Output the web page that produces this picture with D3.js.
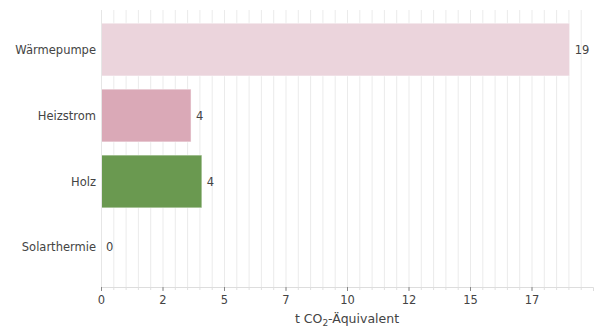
<!DOCTYPE html>
<html><head><meta charset="utf-8">
<script src="https://cdn.jsdelivr.net/npm/d3@7"></script>
<style>body{margin:0;background:#fff}svg{display:block;font-family:"DejaVu Sans",sans-serif}</style>
</head><body><svg id="c" width="595" height="327"></svg>
<script>
const categories = ["Wärmepumpe", "Heizstrom", "Holz", "Solarthermie"];
const values = [19.05, 3.66, 4.1, 0];
const valueLabels = ["19", "4", "4", "0"];
const colors = ["#ebd4dc", "#daa9b7", "#6a9950", "#cccccc"];
const tickValues = [0, 2.5, 5, 7.5, 10, 12.5, 15, 17.5];
const tickLabels = ["0", "2", "5", "7", "10", "12", "15", "17"];
const xMax = 20;
const axisTitleParts = ["t CO", "2", "-Äquivalent"];

const svg = d3.select("#c");
const x = d3.scaleLinear().domain([0, xMax]).range([101, 593]);
const y = d3.scaleBand().domain(categories).range([10, 287]).paddingInner(0.2).paddingOuter(0.2);

// grid
svg.append("g").selectAll("line").data(d3.range(0, xMax, 0.5)).join("line")
  .attr("x1", d => x(d) + 0.5).attr("x2", d => x(d) + 0.5)
  .attr("y1", 10).attr("y2", 287)
  .attr("stroke", "#ebebeb").attr("stroke-width", 1);

// minor ticks
svg.append("g").selectAll("line").data(d3.range(0, xMax, 0.5)).join("line")
  .attr("x1", d => x(d) + 0.5).attr("x2", d => x(d) + 0.5)
  .attr("y1", 287).attr("y2", 290)
  .attr("stroke", "#e0e0e0").attr("stroke-width", 1);

// bars
svg.append("g").selectAll("rect").data(categories).join("rect")
  .attr("x", x(0)).attr("y", d => y(d))
  .attr("width", (d, i) => x(values[i]) - x(0))
  .attr("height", y.bandwidth())
  .attr("fill", (d, i) => colors[i])
  .attr("stroke", "#ffffff").attr("stroke-opacity", 0.5).attr("stroke-width", 1);

// value labels
svg.append("g").selectAll("text").data(categories).join("text")
  .attr("x", (d, i) => x(values[i]) + 5)
  .attr("y", d => y(d) + y.bandwidth() / 2)
  .attr("dy", "0.35em")
  .attr("font-size", 11.5).attr("fill", "#444")
  .text((d, i) => valueLabels[i]);

// y labels
svg.append("g").selectAll("text").data(categories).join("text")
  .attr("x", 96)
  .attr("y", d => y(d) + y.bandwidth() / 2)
  .attr("dy", "0.35em").attr("text-anchor", "end")
  .attr("font-size", 11.5).attr("fill", "#444")
  .text(d => d);

// y axis line
svg.append("line").attr("x1", 101.5).attr("x2", 101.5).attr("y1", 10).attr("y2", 287).attr("stroke", "#e6e6e6");

// x axis
const xAxis = d3.axisBottom(x).tickValues(tickValues)
  .tickFormat((d, i) => tickLabels[i]).tickSize(4).tickPadding(5);
const gx = svg.append("g").attr("transform", "translate(0,287)").call(xAxis);
gx.select(".domain").attr("stroke", "#dddddd");
gx.selectAll(".tick line").attr("stroke", "#888");
gx.selectAll(".tick text").attr("font-size", 11.5).attr("fill", "#444").attr("font-family", "DejaVu Sans");

const title = svg.append("text").attr("x", (x(0) + x(xMax)) / 2).attr("y", 323)
  .attr("text-anchor", "middle").attr("font-size", 12.5).attr("fill", "#444");
title.append("tspan").text(axisTitleParts[0]);
title.append("tspan").attr("font-size", 9).attr("dy", 3).text(axisTitleParts[1]);
title.append("tspan").attr("dy", -3).text(axisTitleParts[2]);
</script></body></html>
